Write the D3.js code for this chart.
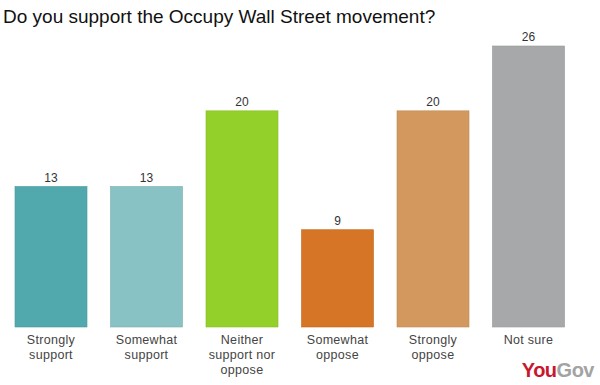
<!DOCTYPE html>
<html>
<head>
<meta charset="utf-8">
<script src="https://cdn.jsdelivr.net/npm/d3@7"></script>
<style>
  body { margin: 0; background: #fff; }
  svg { display: block; font-family: "Liberation Sans", Arial, sans-serif; }
</style>
</head>
<body>
<div id="chart"></div>
<script>
// chart data
const categories = ["Strongly support", "Somewhat support", "Neither support nor oppose", "Somewhat oppose", "Strongly oppose", "Not sure"];
const labelLines = [["Strongly", "support"], ["Somewhat", "support"], ["Neither", "support nor", "oppose"], ["Somewhat", "oppose"], ["Strongly", "oppose"], ["Not sure"]];
const values = [13, 13, 20, 9, 20, 26];
const colors = ["#52a9ad", "#88c2c4", "#94d02a", "#d57525", "#d3985e", "#a7a8aa"];

const width = 600, height = 385;
const baseY = 327;

const svg = d3.select("#chart").append("svg")
    .attr("width", width)
    .attr("height", height);

// title
svg.append("text")
    .attr("x", 3)
    .attr("y", 23)
    .attr("font-size", 19)
    .attr("fill", "#111")
    .text("Do you support the Occupy Wall Street movement?");

let x = d3.scaleBand()
    .domain(categories)
    .range([3.25, 576.25])
    .paddingInner(0.246)
    .paddingOuter(0.123);

let y = d3.scaleLinear()
    .domain([0, 26])
    .range([baseY, 46]);

let bars = svg.append("g").attr("class", "bars");

bars.selectAll("rect")
    .data(categories)
    .enter()
    .append("rect")
    .attr("x", d => x(d))
    .attr("y", (d, i) => y(values[i]))
    .attr("width", x.bandwidth())
    .attr("height", (d, i) => baseY - y(values[i]))
    .attr("fill", (d, i) => colors[i])
    .attr("stroke", (d, i) => d3.color(colors[i]).darker(0.3))
    .attr("stroke-width", 0.6);

// value labels above bars
bars.selectAll("text.value")
    .data(categories)
    .enter()
    .append("text")
    .attr("class", "value")
    .attr("x", d => x(d) + x.bandwidth() / 2)
    .attr("y", (d, i) => y(values[i]) - 5)
    .attr("text-anchor", "middle")
    .attr("font-size", 12)
    .attr("fill", "#333")
    .text((d, i) => values[i]);

// category labels under bars
let catText = svg.append("g").attr("class", "categories")
    .selectAll("text")
    .data(categories)
    .enter()
    .append("text")
    .attr("text-anchor", "middle")
    .attr("font-size", 12.5)
    .attr("letter-spacing", 0.3)
    .attr("fill", "#444");

catText.selectAll("tspan")
    .data((d, i) => labelLines[i].map(t => ({ t: t, c: d })))
    .enter()
    .append("tspan")
    .attr("x", d => x(d.c) + x.bandwidth() / 2)
    .attr("y", (d, j) => 344 + j * 15)
    .text(d => d.t);

// YouGov logo
let logo = svg.append("text")
    .attr("x", 594)
    .attr("y", 377)
    .attr("text-anchor", "end")
    .attr("font-size", 20)
    .attr("font-weight", "bold")
    .attr("letter-spacing", -0.5);
logo.append("tspan").attr("fill", "#c8172e").text("You");
logo.append("tspan").attr("fill", "#a3a3a3").text("Gov");
</script>
</body>
</html>
